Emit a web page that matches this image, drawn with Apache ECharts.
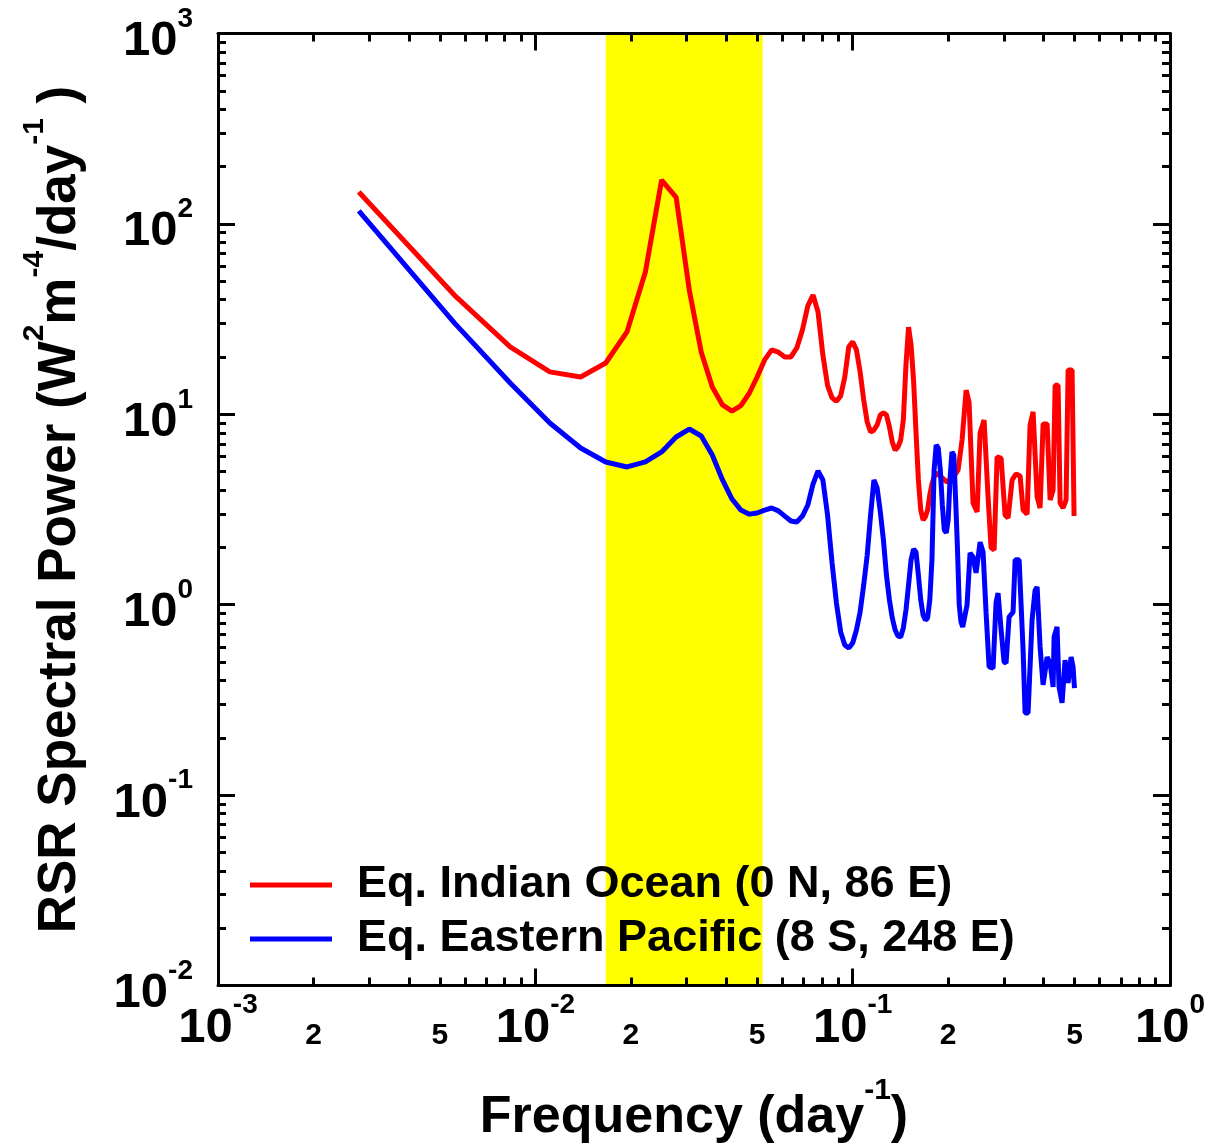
<!DOCTYPE html>
<html><head><meta charset="utf-8">
<script src="https://cdn.jsdelivr.net/npm/echarts@6/dist/echarts.min.js"></script>
<style>html,body{margin:0;padding:0;background:#fff}#c{width:1210px;height:1148px}</style>
</head><body><div id="c"></div>
<script>
// ---- data ----
const seriesNames = ['Eq. Indian Ocean (0 N, 86 E)', 'Eq. Eastern Pacific (8 S, 248 E)'];

const redFreq = [0.002778,0.005556,0.008333,0.011111,0.013889,0.016667,0.019444,0.022222,0.025,0.027778,
  0.030556,0.033333,0.036111,0.038889,0.041667,0.044444,0.047222,0.05,0.052778,0.055556,
  0.058333,0.061111,0.063889,0.066667,0.069444,0.072222,0.075,0.077778,0.080556,0.083333,
  0.086111,0.088889,0.091667,0.094444,0.097222,0.1,0.102778,0.105556,0.108333,0.111111,
  0.113889,0.116667,0.119444,0.122222,0.125,0.127778,0.130556,0.133333,0.136111,0.138889,
  0.141667,0.144444,0.147222,0.15,0.152778,0.155556,0.158333,0.161111,0.163889,0.166667,
  0.169444,0.172222,0.175,0.177778,0.180556,0.183333,
  0.1886,0.1984,0.2072,0.2149,0.2212,0.2278,0.2327,0.2395,0.2467,0.2521,
  0.2595,0.2671,0.2730,0.2791,0.2852,0.2936,0.3022,0.3089,0.3180,0.3273,
  0.3370,0.3444,0.3546,0.3623,0.3703,0.3813,0.3896,0.3982,0.4100,0.4190,
  0.4282,0.4345,0.4440,0.4505,0.4604,0.4705,0.4774,0.4914,0.4985];
const redPower = [147,42.3,22.6,16.7,15.7,18.6,27.1,55.9,170,138,
  45.0,21.2,13.9,11.2,10.4,11.1,12.9,15.7,19.3,21.8,
  21.2,20.0,20.0,22.3,27.7,37.1,42.3,34.5,20.5,14.2,
  12.2,11.7,12.5,15.7,22.6,24.0,21.8,16.7,11.9,9.11,
  8.07,8.27,8.79,9.92,10.2,9.92,8.58,7.15,6.49,6.73,
  7.33,9.33,18.2,28.7,23.1,15.1,8.07,4.52,3.14,2.79,
  2.89,3.14,3.77,4.30,4.69,4.92,
  4.74,4.41,4.63,5.10,7.33,13.4,11.6,3.42,3.07,7.98,
  9.33,3.68,1.99,1.94,5.97,5.89,2.96,2.85,4.52,4.86,
  4.74,3.14,2.99,8.79,10.3,3.68,3.22,8.90,8.90,3.55,
  4.00,14.2,14.2,3.42,3.22,3.55,17.1,17.1,2.92];

const blueFreq = [0.002778,0.005556,0.008333,0.011111,0.013889,0.016667,0.019444,0.022222,0.025,0.027778,
  0.030556,0.033333,0.036111,0.038889,0.041667,0.044444,0.047222,0.05,0.052778,0.055556,
  0.058333,0.061111,0.063889,0.066667,0.069444,0.072222,0.075,0.077778,0.080556,0.083333,
  0.086111,0.088889,0.091667,0.094444,0.097222,0.1,0.102778,0.105556,0.108333,0.111111,
  0.113889,0.116667,0.119444,0.122222,0.125,0.127778,0.130556,0.133333,0.136111,0.138889,
  0.141667,0.144444,0.147222,0.15,0.152778,0.155556,0.158333,0.161111,0.163889,0.166667,
  0.169444,0.172222,0.175,0.177778,0.180556,0.183333,0.186111,0.188889,0.191667,0.194444,
  0.197222,0.2,0.202778,0.205556,0.208333,0.211111,0.213889,0.216667,0.219444,0.222222,
  0.2293,0.2344,0.2395,0.2448,0.2521,0.2576,0.2633,0.2691,0.2770,0.2831,
  0.2872,0.2936,0.3000,0.3044,0.3111,0.3203,0.3250,0.3346,0.3444,0.3494,
  0.3571,0.3676,0.3757,0.3813,0.3896,0.3982,0.4100,0.4190,0.4282,0.4313,
  0.4406,0.4471,0.4570,0.4670,0.4774,0.4879,0.4950,0.5];
const bluePower = [117,30.2,14.6,9.00,6.65,5.62,5.29,5.62,6.34,7.60,
  8.37,7.69,6.11,4.52,3.59,3.14,2.99,3.03,3.14,3.22,
  3.11,2.92,2.75,2.72,2.92,3.34,4.30,5.04,4.52,2.96,
  1.66,1.02,0.719,0.614,0.592,0.629,0.736,0.916,1.27,1.82,
  2.96,4.52,4.10,3.07,2.19,1.43,1.06,0.851,0.736,0.685,
  0.677,0.755,0.938,1.27,1.72,1.96,1.89,1.43,1.06,0.883,
  0.831,0.851,1.06,1.72,5.10,6.90,6.65,5.10,3.34,2.47,
  2.38,2.79,4.63,6.34,6.11,3.55,1.99,0.996,0.811,0.764,
  0.996,1.87,1.78,1.47,2.13,1.89,0.905,0.471,0.465,1.03,
  1.15,0.736,0.500,0.494,0.862,0.916,1.72,1.72,0.578,0.270,
  0.270,0.831,1.19,1.24,0.600,0.379,0.531,0.494,0.370,0.677,
  0.764,0.370,0.305,0.512,0.388,0.531,0.471,0.365];

// 20-60 day band (frequency, day^-1)
const bandRange = [0.016667, 0.052];

// axis ticks and labels
const xMajor = [0.001, 0.01, 0.1, 1];
const xMinorLabelValues = [0.002, 0.005, 0.02, 0.05, 0.2, 0.5];
const xDecades = [0.001, 0.01, 0.1];
const yMajor = [0.01, 0.1, 1, 10, 100, 1000];
const yDecades = [0.01, 0.1, 1, 10, 100];

// ---- chart ----
function minorTicks(decades) {
  const out = [];
  decades.forEach(d => { for (let m = 2; m <= 9; m++) out.push(+(m * d).toPrecision(6)); });
  return out;
}
const xMinor = minorTicks(xDecades);
const yMinor = minorTicks(yDecades);

const F = '"Liberation Sans", Arial, Helvetica, sans-serif';
const richTick = {
  b: {fontSize: 49, fontWeight: 'bold', fontFamily: F, color: '#000', padding: [16, 0, 0, 0]},
  s: {fontSize: 28, fontWeight: 'bold', fontFamily: F, color: '#000', verticalAlign: 'top', padding: [4, 0, 0, 0]}
};
function powLabel(v) {
  const e = Math.round(Math.log10(v));
  return '{b|10}{s|' + e + '}';
}
function mantissaLabel(v) {
  const d = Math.pow(10, Math.floor(Math.log10(v) + 1e-9));
  return String(Math.round(v / d));
}

const GRID = {left: 218, right: 40, top: 33.5, bottom: 162.5, outerBoundsMode: 'none', containLabel: false};
const black = '#000';

function xAx(grid, pos, major, withLabels) {
  const a = {
    gridIndex: grid, type: 'log', logBase: 10, min: 0.001, max: 1, position: pos, z: 10,
    axisLine: {show: major, onZero: false, lineStyle: {color: black, width: 3}},
    axisTick: {show: true, inside: true, length: major ? 17 : 8, lineStyle: {color: black, width: 3},
      customValues: major ? xMajor : xMinor},
    axisLabel: {show: false},
    splitLine: {show: false}, minorTick: {show: false}, minorSplitLine: {show: false}
  };
  if (withLabels && major) {
    a.axisLabel = {show: true, customValues: xMajor, margin: 2, formatter: powLabel, rich: richTick};
    a.name = '{t|Frequency (day}{u|-1}{t|)}';
    a.nameLocation = 'middle';
    a.nameGap = 90;
    a.nameTextStyle = {rich: {
      t: {fontSize: 52, fontWeight: 'bold', fontFamily: F, color: black, padding: [16, 0, 0, 0]},
      u: {fontSize: 30, fontWeight: 'bold', fontFamily: F, color: black, verticalAlign: 'top'}
    }};
  } else if (withLabels) {
    a.axisLabel = {show: true, customValues: xMinorLabelValues, margin: 35, formatter: mantissaLabel,
      fontSize: 30, lineHeight: 30, fontWeight: 'bold', fontFamily: F, color: black};
  }
  return a;
}
function yAx(grid, pos, major, withLabels) {
  const a = {
    gridIndex: grid, type: 'log', logBase: 10, min: 0.01, max: 1000, position: pos, z: 10,
    axisLine: {show: major, onZero: false, lineStyle: {color: black, width: 3}},
    axisTick: {show: true, inside: true, length: major ? 17 : 8, lineStyle: {color: black, width: 3},
      customValues: major ? yMajor : yMinor},
    axisLabel: {show: false},
    splitLine: {show: false}, minorTick: {show: false}, minorSplitLine: {show: false}
  };
  if (withLabels) {
    a.axisLabel = {show: true, customValues: yMajor, margin: 25, formatter: powLabel, rich: richTick};
    a.name = '{t|RSR Spectral Power (W}{u|2}{t|m}{u|-4}{t|/day}{u|-1}{t| )}';
    a.nameLocation = 'middle';
    a.nameGap = 131;
    a.nameTextStyle = {rich: {
      t: {fontSize: 53, fontWeight: 'bold', fontFamily: F, color: black, padding: [14, 0, 0, 0]},
      u: {fontSize: 30, fontWeight: 'bold', fontFamily: F, color: black, verticalAlign: 'top'}
    }};
  }
  return a;
}

const zip = (xs, ys) => xs.map((x, i) => [x, ys[i]]);

const option = {
  animation: false,
  backgroundColor: '#fff',
  grid: [Object.assign({}, GRID), Object.assign({}, GRID)],
  xAxis: [xAx(0, 'bottom', true, true), xAx(0, 'top', true, false), xAx(1, 'bottom', false, true), xAx(1, 'top', false, false)],
  yAxis: [yAx(0, 'left', true, true), yAx(0, 'right', true, false), yAx(1, 'left', false, false), yAx(1, 'right', false, false)],
  legend: {
    show: true, orient: 'vertical', left: 245, top: 856, icon: 'rect',
    itemWidth: 82, itemHeight: 5, itemGap: 6,
    data: seriesNames,
    textStyle: {fontSize: 45, fontWeight: 'bold', fontFamily: F, color: black, lineHeight: 48, padding: [0, 0, 0, 20]}
  },
  series: [
    {
      name: seriesNames[0], type: 'line', xAxisIndex: 0, yAxisIndex: 0, z: 3,
      data: zip(redFreq, redPower), showSymbol: false, symbol: 'none', smooth: false,
      lineStyle: {color: '#ff0000', width: 5}, itemStyle: {color: '#ff0000'},
      markArea: {silent: true, z: 1, itemStyle: {color: '#ffff00', opacity: 1},
        data: [[{xAxis: bandRange[0]}, {xAxis: bandRange[1]}]]}
    },
    {
      name: seriesNames[1], type: 'line', xAxisIndex: 0, yAxisIndex: 0, z: 3,
      data: zip(blueFreq, bluePower), showSymbol: false, symbol: 'none', smooth: false,
      lineStyle: {color: '#0000ff', width: 5}, itemStyle: {color: '#0000ff'}
    }
  ]
};
const chart = echarts.init(document.getElementById('c'), null, {renderer: 'canvas'});
chart.setOption(option);
</script>
</body></html>
